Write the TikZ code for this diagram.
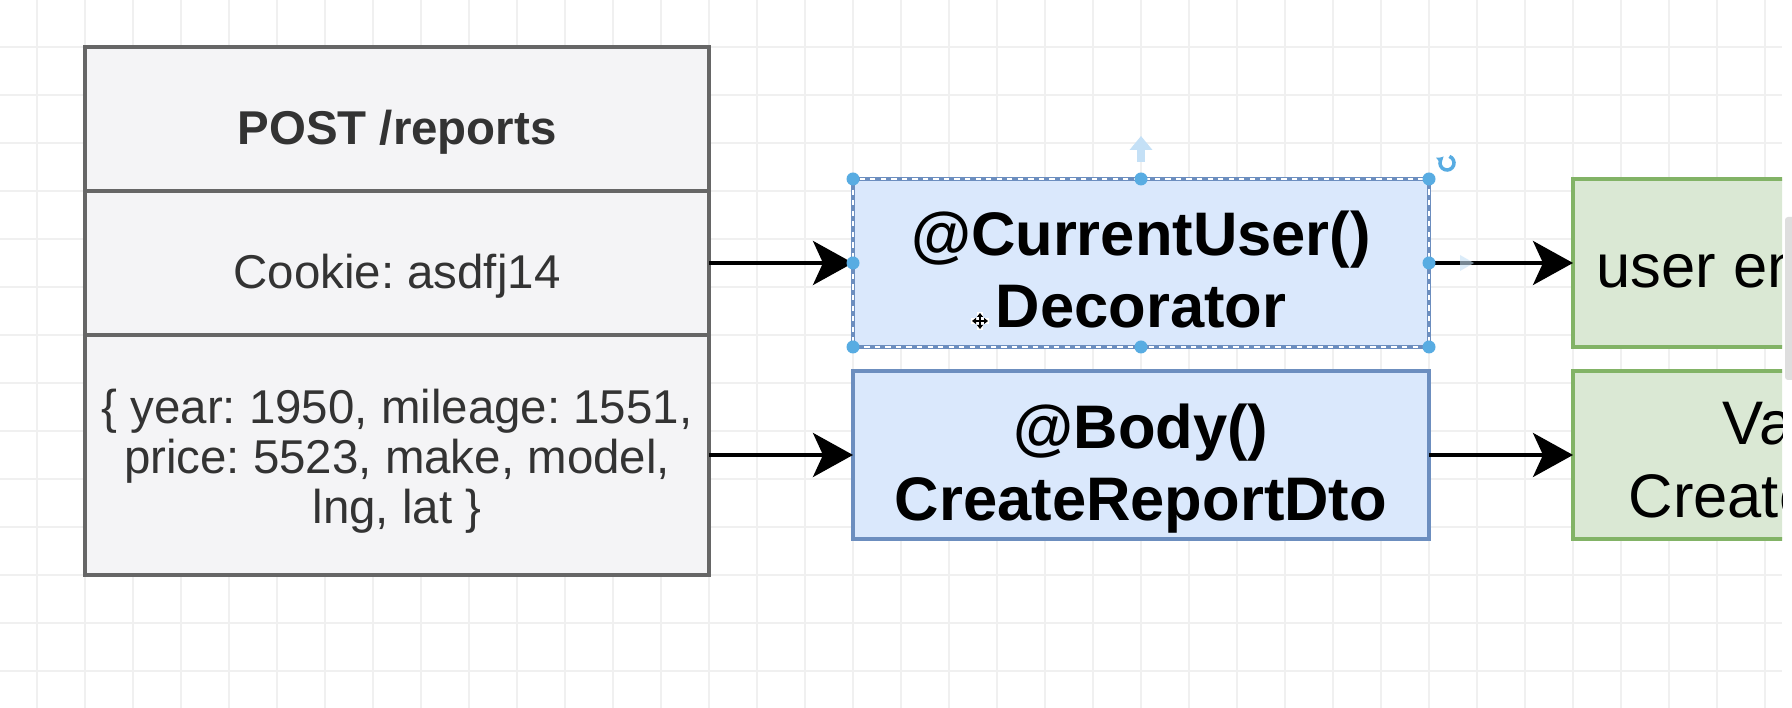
\documentclass[tikz,border=0pt]{standalone}
\usepackage{fontspec}
\setmainfont{Liberation Sans}
\usepackage{tikz}
\usetikzlibrary{positioning,arrows.meta}
\usepackage{xcolor}
\frenchspacing
\definecolor{gridgrey}{RGB}{240,240,240}
\definecolor{reqfill}{RGB}{244,244,246}
\definecolor{reqline}{RGB}{102,102,102}
\definecolor{reqtext}{RGB}{51,51,51}
\definecolor{bluefill}{RGB}{218,232,252}
\definecolor{blueline}{RGB}{108,142,191}
\definecolor{greenfill}{RGB}{218,232,212}
\definecolor{greenline}{RGB}{130,179,102}
\definecolor{handleblue}{RGB}{88,172,226}
\definecolor{hintblue}{RGB}{196,224,246}
\definecolor{thumbgrey}{RGB}{222,222,222}

\tikzset{
  reqrow/.style={draw=reqline,fill=reqfill,line width=1.2pt,minimum width=6.24cm,
    inner sep=0pt,outer sep=0pt},
  stepbox/.style={draw=blueline,fill=bluefill,line width=1.1pt,minimum width=5.76cm,
    minimum height=1.68cm,inner sep=0pt,outer sep=0pt},
  resultbox/.style={draw=greenline,fill=greenfill,line width=1.1pt,minimum width=5.76cm,
    minimum height=1.68cm,inner sep=0pt,outer sep=0pt},
  reqtxt/.style={text=reqtext,font=\fontsize{13.5}{14.2}\selectfont,inner sep=0pt},
  bigtxt/.style={font=\fontsize{17.5}{20.5}\selectfont,inner sep=0pt},
  flow/.style={-{Stealth[length=0.40cm,width=0.44cm,inset=0.1cm]},line width=1.1pt},
  handle/.style={circle,fill=handleblue,inner sep=0pt,minimum size=0.13cm},
}

\begin{document}
\begin{tikzpicture}
    \fill[white] (0,0) rectangle (17.92,7.08);
    \useasboundingbox (0,0) rectangle (17.92,7.08);
    \draw[gridgrey,line width=0.35pt,step=0.48cm,shift={(0.37,0.37)}] (-0.37,-0.37) grid (17.55,6.71);
    \fill[white] (17.82,0) rectangle (17.92,7.08);
    \fill[thumbgrey,rounded corners=0.03cm] (17.85,3.28) rectangle (17.98,4.91);

    % request card
    \node[reqrow,minimum height=1.44cm] (hdr) at (3.97,5.89) {};
    \node[reqrow,minimum height=1.44cm,below=0pt of hdr] (cookie) {};
    \node[reqrow,minimum height=2.40cm,below=0pt of cookie] (body) {};
    \node[reqtxt,anchor=base] (hdrtxt) at ([yshift=-0.26cm]hdr.center) {\bfseries POST /reports};
    \node[reqtxt,anchor=base] (cookietxt) at ([yshift=-0.26cm]cookie.center) {Cookie: asdfj14};
    \node[reqtxt,align=center] (bodytxt) at ([yshift=-0.065cm]body.center)
      {\{ year: 1950, mileage: 1551,\\ price: 5523, make, model,\\ lng, lat \}};

    % decorators
    \node[stepbox] (cur) at (11.41,4.45) {};
    \node[stepbox,below=0.24cm of cur] (dto) {};
    \draw[white,line width=0.5pt,dash pattern=on 1.5pt off 1.5pt]
      (cur.north west) rectangle (cur.south east);
    \node[bigtxt,align=center] (curtxt) at ([yshift=-0.065cm]cur.center)
      {\bfseries @CurrentUser()\\ \bfseries Decorator};
    \node[bigtxt,align=center] (dtotxt) at ([yshift=-0.14cm]dto.center)
      {\bfseries @Body()\\ \bfseries CreateReportDto};

    % results, cut off by the window edge
    \begin{scope}
      \clip (0,0) rectangle (17.82,7.08);
      \node[resultbox,right=1.44cm of cur] (usr) {};
      \node[resultbox,right=1.44cm of dto] (val) {};
      \node[bigtxt,anchor=base west] (usrtxt) at (15.96,4.20) {user en};
      \node[bigtxt,anchor=base west] (valtxt) at (17.22,2.63) {Va};
      \node[bigtxt,anchor=base west] (dtoname) at (16.28,1.90) {Create};
    \end{scope}

    \draw[flow] (cookie.east) -- (cur.west);
    \draw[flow] (body.east) -- (dto.west);
    \draw[flow] (cur.east) -- (usr.west);
    \draw[flow] (dto.east) -- (val.west);

    % selection handles
    \foreach \a/\n in {north west/nw,north/n,north east/ne,east/e,south east/se,south/s,south west/sw,west/w}
      \node[handle] (h\n) at (cur.\a) {};
    \coordinate (uphint) at (11.41,5.72);
    \draw[hintblue,line width=2pt,-{Triangle[length=0.14cm,width=0.22cm]}]
      ([yshift=0.1cm]hn.north) -- (uphint);
    \coordinate (righthint) at (14.74,4.45);
    \fill[hintblue,opacity=0.6] ([xshift=-0.14cm,yshift=0.08cm]righthint) -- (righthint)
      -- ([xshift=-0.14cm,yshift=-0.08cm]righthint) -- cycle;
    \coordinate (rot) at (14.47,5.45);
    \draw[handleblue,line width=1pt,-{Triangle[length=0.05cm,width=0.08cm]}]
      ([shift={(70:0.07)}]rot) arc[start angle=70,end angle=-230,radius=0.07];

    % move cursor
    \coordinate (mv) at (9.80,3.87);
    \draw[white,line width=1.6pt] ([xshift=-0.09cm]mv) -- ([xshift=0.09cm]mv)
      ([yshift=-0.09cm]mv) -- ([yshift=0.09cm]mv);
    \draw[black,line width=0.5pt,{Triangle[length=0.04cm,width=0.06cm]}-{Triangle[length=0.04cm,width=0.06cm]}]
      ([xshift=-0.08cm]mv) -- ([xshift=0.08cm]mv);
    \draw[black,line width=0.5pt,{Triangle[length=0.04cm,width=0.06cm]}-{Triangle[length=0.04cm,width=0.06cm]}]
      ([yshift=-0.08cm]mv) -- ([yshift=0.08cm]mv);
\end{tikzpicture}
\end{document}
